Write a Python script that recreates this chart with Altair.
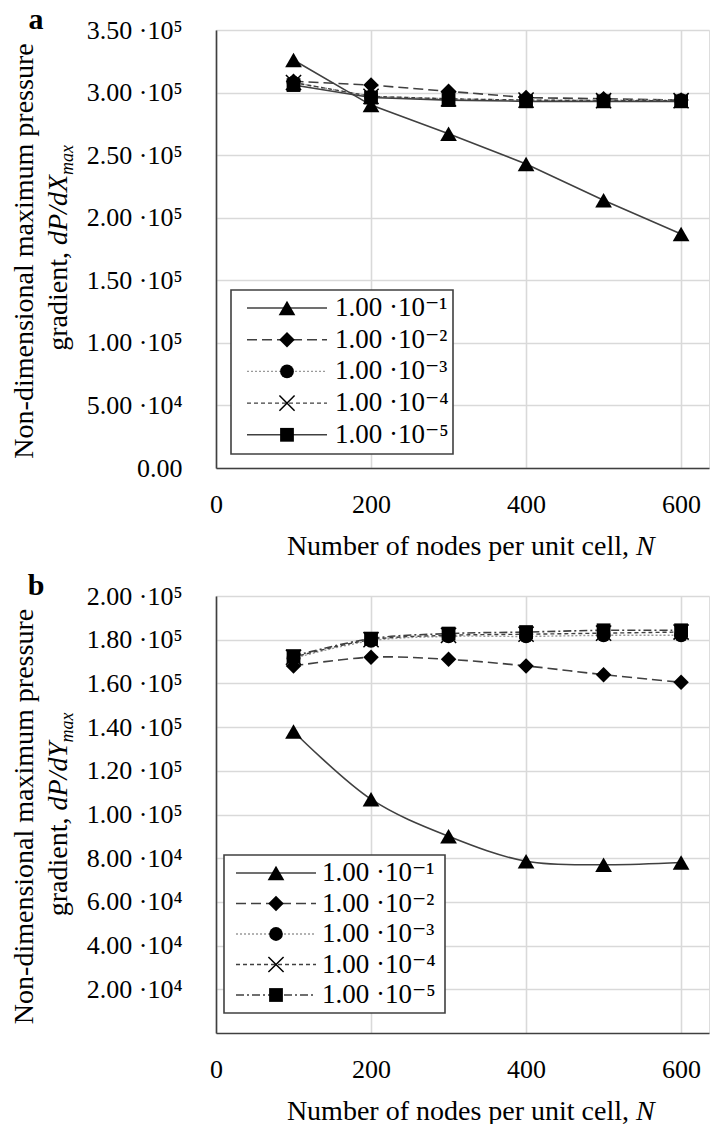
import altair as alt
import pandas as pd

# ---------------- data ----------------
N_NODES = [100, 200, 300, 400, 500, 600]
SERIES = ["1e-1", "1e-2", "1e-3", "1e-4", "1e-5"]
LEGEND_LABELS = ["1.00 ·10⁻¹", "1.00 ·10⁻²", "1.00 ·10⁻³", "1.00 ·10⁻⁴", "1.00 ·10⁻⁵"]

# panel a: dP/dX_max
DPDX_1E1 = [326000, 290000, 267000, 243000, 214000, 187000]
DPDX_1E2 = [309000, 306000, 301000, 296000, 295000, 294000]
DPDX_1E3 = [308000, 297000, 295000, 294000, 294000, 294000]
DPDX_1E4 = [308000, 297000, 295000, 294000, 293500, 293500]
DPDX_1E5 = [306000, 296000, 294000, 293000, 293000, 293000]

# panel b: dP/dY_max
DPDY_1E1 = [138000, 107000, 90000, 78600, 77000, 78000]
DPDY_1E2 = [168000, 172000, 171000, 168000, 164000, 160500]
DPDY_1E3 = [171500, 179500, 181500, 181500, 182000, 182000]
DPDY_1E4 = [172000, 180000, 182000, 182500, 183000, 183500]
DPDY_1E5 = [172500, 180500, 182800, 183500, 184300, 184300]

X_TICKS = [0, 200, 400, 600]
X_MAX = 636
Y_TICKS_A = [0, 50000, 100000, 150000, 200000, 250000, 300000, 350000]
Y_TICKS_B = [20000, 40000, 60000, 80000, 100000, 120000, 140000, 160000, 180000, 200000]

FONT = "Liberation Serif, Times New Roman, DejaVu Serif, serif"
INK = "#404040"
W = 493
H_A = 438
H_B = 437

X_SHAPE = "M-1,-1L1,1M-1,1L1,-1"


def styles(last_dash):
    return [
        dict(shape="triangle-up", filled=True, size=280, dash=None, color=INK, width=1.6),
        dict(shape="diamond", filled=True, size=240, dash=[10, 5], color=INK, width=1.6),
        dict(shape="circle", filled=True, size=190, dash=[2, 2], color="#9a9a9a", width=1.4),
        dict(shape=X_SHAPE, filled=False, size=230, dash=[4, 3], color=INK, width=1.4),
        dict(shape="square", filled=True, size=190, dash=last_dash, color=INK, width=1.6),
    ]


def label_expr(show_zero):
    zero = "'0.00'" if show_zero else "''"
    return ("datum.value == 0 ? " + zero + " : datum.value < 100000 ? "
            "format(datum.value / 10000, '.2f') + ' ·10⁴' : "
            "format(datum.value / 100000, '.2f') + ' ·10⁵'")


def line_mark(st, interp):
    kw = dict(color=st["color"], strokeWidth=st["width"], interpolate=interp)
    if st["dash"] is not None:
        kw["strokeDash"] = st["dash"]
    return kw


def point_mark(st):
    kw = dict(shape=st["shape"], size=st["size"], color="black", opacity=1,
              filled=st["filled"])
    if not st["filled"]:
        kw["strokeWidth"] = 1.5
    return kw


def panel(values, yticks, ymax, height, interp, last_dash, show_zero,
          letter, yvar, legend):
    xenc = alt.X("N:Q", scale=alt.Scale(domain=[0, X_MAX], nice=False, zero=True),
                 axis=alt.Axis(values=X_TICKS, title=None, labelFontSize=26,
                               labelFont=FONT, labelColor="black", labelPadding=23,
                               labelFlush=False, ticks=False, domainColor=INK,
                               domainWidth=1.6, gridColor="#d9d9d9", gridWidth=1.6))
    yenc = alt.Y("v:Q", scale=alt.Scale(domain=[0, ymax], nice=False),
                 axis=alt.Axis(values=yticks, title=None, labelFontSize=26,
                               labelFont=FONT, labelColor="black", labelPadding=34,
                               labelExpr=label_expr(show_zero), ticks=False,
                               domainColor=INK, domainWidth=1.6,
                               gridColor="#d9d9d9", gridWidth=1.6))
    sts = styles(last_dash)
    layers = []
    for s, vals, st in zip(SERIES, values, sts):
        df = pd.DataFrame({"N": N_NODES, "v": vals, "s": s})
        layers.append(alt.Chart(df).mark_line(**line_mark(st, interp)).encode(x=xenc, y=yenc))
        layers.append(alt.Chart(df).mark_point(**point_mark(st)).encode(x=xenc, y=yenc))

    # legend
    bx0, bx1, by0, by1, row0, step, lx0, lx1, lm, lt = legend
    one = pd.DataFrame({"k": [0]})
    layers.append(alt.Chart(one).mark_rect(fill="white", stroke=INK, strokeWidth=1.6).encode(
        x=alt.value(bx0), x2=alt.value(bx1), y=alt.value(by0), y2=alt.value(by1)))
    for i, (lab, st) in enumerate(zip(LEGEND_LABELS, sts)):
        yy = row0 + i * step
        rk = dict(color=st["color"], strokeWidth=st["width"])
        if st["dash"] is not None:
            rk["strokeDash"] = st["dash"]
        layers.append(alt.Chart(one).mark_rule(**rk).encode(
            x=alt.value(lx0), x2=alt.value(lx1), y=alt.value(yy)))
        layers.append(alt.Chart(one).mark_point(**point_mark(st)).encode(
            x=alt.value(lm), y=alt.value(yy)))
        layers.append(alt.Chart(pd.DataFrame({"label": [lab]})).mark_text(
            align="left", baseline="middle", font=FONT, fontSize=27, color="black").encode(
            x=alt.value(lt), y=alt.value(yy), text="label:N"))

    # y-axis title (two lines, italic symbol)
    anchor = height / 2 + 3
    layers.append(alt.Chart(one).mark_text(
        angle=270, align="center", baseline="alphabetic", font=FONT, fontSize=28,
        color="black").encode(x=alt.value(-183), y=alt.value(height / 2 + 2),
                              text=alt.value("Non-dimensional maximum pressure")))
    layers.append(alt.Chart(one).mark_text(
        angle=270, align="right", baseline="alphabetic", font=FONT, fontSize=28,
        color="black").encode(x=alt.value(-149), y=alt.value(anchor),
                              text=alt.value("gradient,")))
    layers.append(alt.Chart(one).mark_text(
        angle=270, align="left", baseline="alphabetic", font=FONT, fontSize=28,
        fontStyle="italic", color="black").encode(
        x=alt.value(-149), y=alt.value(anchor - 7), text=alt.value("dP/d" + yvar)))
    layers.append(alt.Chart(one).mark_text(
        angle=270, align="left", baseline="alphabetic", font=FONT, fontSize=18,
        fontStyle="italic", color="black").encode(
        x=alt.value(-143), y=alt.value(anchor - 7 - (70 if yvar == "X" else 68)),
        text=alt.value("max")))

    # x-axis title
    layers.append(alt.Chart(one).mark_text(
        align="right", baseline="middle", font=FONT, fontSize=28, color="black").encode(
        x=alt.value(413), y=alt.value(height + 79),
        text=alt.value("Number of nodes per unit cell,")))
    layers.append(alt.Chart(one).mark_text(
        align="left", baseline="middle", font=FONT, fontSize=28, fontStyle="italic",
        color="black").encode(x=alt.value(420), y=alt.value(height + 79),
                              text=alt.value("N")))

    # panel letter
    layers.append(alt.Chart(one).mark_text(
        align="center", baseline="middle", font=FONT, fontSize=30, fontWeight="bold",
        color="black").encode(x=alt.value(-180), y=alt.value(-10), text=alt.value(letter)))

    return alt.layer(*layers).properties(width=W, height=height)


panel_a = panel([DPDX_1E1, DPDX_1E2, DPDX_1E3, DPDX_1E4, DPDX_1E5], Y_TICKS_A, 350000,
                H_A, "linear", None, True, "a", "X",
                (15, 237, 260, 424, 278, 31.7, 31, 111, 71, 119))
panel_b = panel([DPDY_1E1, DPDY_1E2, DPDY_1E3, DPDY_1E4, DPDY_1E5], Y_TICKS_B, 200000,
                H_B, "catmull-rom", [8, 3, 2, 3], False, "b", "Y",
                (8, 229, 259, 417, 277, 30.5, 20, 100, 60, 106))

chart = alt.vconcat(panel_a, panel_b, spacing=128, bounds="flush").properties(
    padding={"left": 10, "top": 4, "right": 0, "bottom": 0}
).configure_view(stroke=None).configure(background="white")

chart.save("out.html", embed_options={"renderer": "svg", "actions": False})
